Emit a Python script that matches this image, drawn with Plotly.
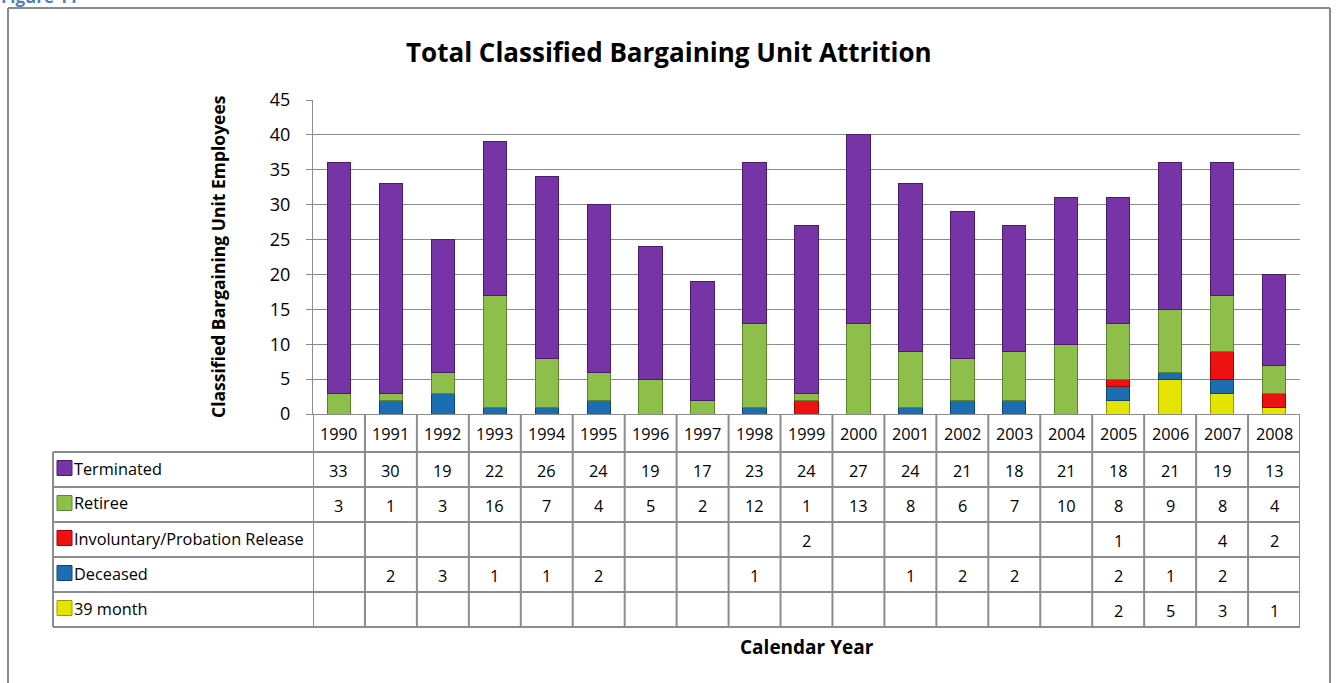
import plotly.graph_objects as go

years = [str(y) for y in range(1990, 2009)]
terminated = [33, 30, 19, 22, 26, 24, 19, 17, 23, 24, 27, 24, 21, 18, 21, 18, 21, 19, 13]
retiree = [3, 1, 3, 16, 7, 4, 5, 2, 12, 1, 13, 8, 6, 7, 10, 8, 9, 8, 4]
involuntary = [None] * 9 + [2] + [None] * 5 + [1, None, 4, 2]
deceased = [None, 2, 3, 1, 1, 2, None, None, 1, None, None, 1, 2, 2, None, 2, 1, 2, None]
month39 = [None] * 15 + [2, 5, 3, 1]

series_names = ["Terminated", "Retiree", "Involuntary/Probation Release", "Deceased", "39 month"]
series_vals = [terminated, retiree, involuntary, deceased, month39]
series_colors = ["#7634A6", "#8DBF4A", "#EE1111", "#1D6DB3", "#E4E400"]
series_edges = ["#4A1C6C", "#5C8430", "#A00000", "#0E4577", "#9A9A00"]

FONT = "'Open Sans', 'Liberation Sans', sans-serif"
GRID = "#8C8C8C"

# pixel geometry helpers (figure is 1341 x 683)
L, R, T, B = 313, 1300, 100, 414
def px(x):
    return (x - L) / (R - L)
def py(y):
    return (B - y) / (B - T)

fig = go.Figure()
# stacked bottom -> top
for name, vals, col, edge in reversed(list(zip(series_names, series_vals, series_colors, series_edges))):
    fig.add_trace(go.Bar(
        x=years, y=vals, name=name, width=0.45,
        marker=dict(color=col, line=dict(color=edge, width=1)),
        showlegend=False,
    ))

shapes = []
annotations = []

# outer frame
frame = dict(type="line", xref="paper", yref="paper", line=dict(color="#8A8A8A", width=2))
shapes.append({**frame, "x0": px(8), "x1": px(8), "y0": py(8), "y1": py(700)})
shapes.append({**frame, "x0": px(8), "x1": px(1330), "y0": py(8), "y1": py(8)})
shapes.append({**frame, "x0": px(1330), "x1": px(1330), "y0": py(8), "y1": py(700)})

# data table
row_edges = [414, 452, 487, 522, 557, 592, 627]
tline = dict(color=GRID, width=2)
for ry in row_edges[1:]:
    shapes.append(dict(type="line", xref="paper", yref="paper", x0=px(53), x1=1, y0=py(ry), y1=py(ry), line=tline))
shapes.append(dict(type="line", xref="paper", yref="paper", x0=px(53), x1=px(53), y0=py(452), y1=py(627), line=tline))
for i in range(len(years) + 1):
    shapes.append(dict(type="line", xref="x", yref="paper", x0=i - 0.5, x1=i - 0.5, y0=0, y1=py(627), line=tline))

cell_font = dict(family=FONT, size=16.3, color="#000000")
for i, yr in enumerate(years):
    annotations.append(dict(x=i, xref="x", y=py(434), yref="paper", text=yr, showarrow=False,
                            font=cell_font, xanchor="center", yanchor="middle"))
for r, (name, vals, col, edge) in enumerate(zip(series_names, series_vals, series_colors, series_edges)):
    cy = (row_edges[r + 1] + row_edges[r + 2]) / 2
    for i, yr in enumerate(years):
        v = vals[i]
        if v is not None:
            annotations.append(dict(x=i, xref="x", y=py(cy + 1), yref="paper", text=str(v), showarrow=False,
                                    font=cell_font, xanchor="center", yanchor="middle"))
    annotations.append(dict(x=px(72), xref="paper", y=py(cy - 1), yref="paper", text=name, showarrow=False,
                            font=cell_font, xanchor="left", yanchor="middle"))
    shapes.append(dict(type="rect", xref="paper", yref="paper", x0=px(57), x1=px(72),
                       y0=py(cy - 9), y1=py(cy + 6), fillcolor=col, line=dict(color=edge, width=1)))

# titles
annotations.append(dict(x=px(669), xref="paper", y=py(52), yref="paper", text="<b>Total Classified Bargaining Unit Attrition</b>",
                        showarrow=False, font=dict(family=FONT, size=26, color="#000000"), xanchor="center", yanchor="middle"))
annotations.append(dict(x=px(807), xref="paper", y=py(647), yref="paper", text="<b>Calendar Year</b>",
                        showarrow=False, font=dict(family=FONT, size=19, color="#000000"), xanchor="center", yanchor="middle"))
annotations.append(dict(x=px(218), xref="paper", y=py(257), yref="paper", text="<b>Classified Bargaining Unit Employees</b>",
                        showarrow=False, textangle=-90, font=dict(family=FONT, size=17.5, color="#000000"),
                        xanchor="center", yanchor="middle"))
annotations.append(dict(x=px(-1), xref="paper", y=py(-4), yref="paper", text="<b>Figure 11</b>",
                        showarrow=False, font=dict(family=FONT, size=17, color="#4F81BD"), xanchor="left", yanchor="middle"))

fig.update_layout(
    width=1341, height=683,
    margin=dict(l=L, r=1341 - R, t=T, b=683 - B, pad=0),
    barmode="stack",
    plot_bgcolor="#FFFFFF", paper_bgcolor="#FFFFFF",
    font=dict(family=FONT, size=16, color="#000000"),
    shapes=shapes, annotations=annotations,
    xaxis=dict(type="category", range=[-0.5, 18.5], showticklabels=False, showgrid=False,
               showline=True, linecolor=GRID, linewidth=1, ticks="", zeroline=False),
    yaxis=dict(range=[0, 45], dtick=5, showgrid=True, gridcolor=GRID, gridwidth=1,
               showline=True, linecolor=GRID, linewidth=1, ticks="outside", ticklen=6, tickcolor=GRID,
               ticklabelstandoff=12, tickfont=dict(family=FONT, size=18, color="#000000"), zeroline=False),
)

fig.write_html("out.html", config={"displayModeBar": False},
               post_script="document.body.style.margin='0px';")
